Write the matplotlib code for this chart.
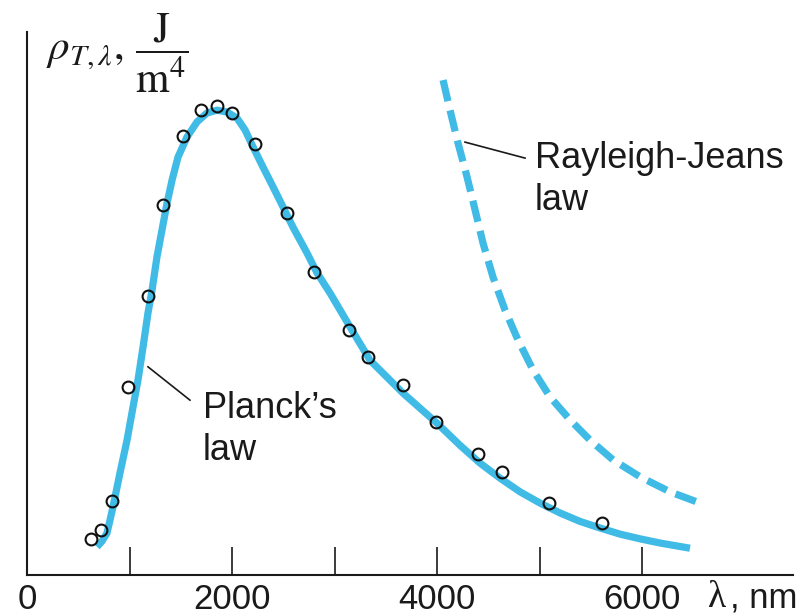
import matplotlib
matplotlib.use("Agg")
import matplotlib.pyplot as plt

# ---- data (arbitrary y units, peak ~ 1) ----
meas_wavelength = [620, 720, 830, 990, 1180, 1330, 1520, 1700, 1850, 2000, 2220,
                   2540, 2800, 3140, 3330, 3670, 3990, 4400, 4630, 5090, 5610]
meas_rho = [0.077, 0.096, 0.157, 0.400, 0.594, 0.787, 0.934, 0.989, 0.998, 0.983, 0.917,
            0.770, 0.645, 0.521, 0.464, 0.404, 0.326, 0.257, 0.219, 0.153, 0.111]

planck_wavelength = [683, 732, 780, 810, 839, 907, 976, 1034, 1083, 1132, 1180, 1220, 1268,
                     1317, 1366, 1415, 1473, 1561, 1659, 1756, 1854, 1951, 2049, 2127,
                     2205, 2302, 2400, 2498, 2595, 2732, 2829, 2956, 3151, 3346, 3668,
                     4000, 4224, 4420, 4615, 4810, 5005, 5200, 5395, 5590, 5785, 5980,
                     6176, 6468]
planck_rho = [0.060, 0.072, 0.089, 0.117, 0.145, 0.217, 0.287, 0.357, 0.415, 0.485, 0.557,
              0.606, 0.677, 0.734, 0.791, 0.840, 0.889, 0.932, 0.964, 0.983, 0.989, 0.985,
              0.972, 0.947, 0.911, 0.868, 0.826, 0.783, 0.740, 0.685, 0.643, 0.600, 0.528,
              0.457, 0.387, 0.323, 0.276, 0.238, 0.206, 0.177, 0.153, 0.132, 0.114, 0.100,
              0.087, 0.077, 0.068, 0.057]

rj_wavelength = [4059, 4127, 4205, 4293, 4371, 4449, 4546, 4663, 4790, 4937, 5102, 5298,
                 5493, 5717, 5980, 6273, 6566]
rj_rho = [1.053, 0.989, 0.919, 0.847, 0.777, 0.706, 0.634, 0.564, 0.500, 0.436, 0.379,
          0.330, 0.287, 0.245, 0.209, 0.177, 0.153]

tick_values = [0, 1000, 2000, 3000, 4000, 5000, 6000]
tick_labels = ["0", "", "2000", "", "4000", "", "6000"]

BLUE = "#3fbbe6"
INK = "#1a1a1a"
SANS = "Liberation Sans"
SERIF = "Liberation Serif"

W, H = 809, 616
fig = plt.figure(figsize=(W / 100, H / 100), dpi=100)
ax = fig.add_axes([27 / W, 41 / H, (793 - 27) / W, (584 - 41) / H])
ax.set_xlim(0, 7473)
ax.set_ylim(0, 1.1553)

ax.plot(planck_wavelength, planck_rho, color=BLUE, lw=5.2, solid_joinstyle="round",
        solid_capstyle="butt", zorder=2)
ax.plot(rj_wavelength, rj_rho, color=BLUE, lw=5.2, linestyle=(0, (3.0, 1.3)),
        dash_capstyle="butt", dash_joinstyle="round", zorder=2)
ax.plot(meas_wavelength, meas_rho, linestyle="none", marker="o", markersize=8.5,
        markerfacecolor="none", markeredgecolor="#111111", markeredgewidth=1.5, zorder=3)

for s in ["top", "right"]:
    ax.spines[s].set_visible(False)
for s in ["left", "bottom"]:
    ax.spines[s].set_linewidth(1.5)
    ax.spines[s].set_color(INK)

ax.set_xticks(tick_values)
ax.set_xticklabels(tick_labels, fontfamily=SANS, fontsize=25, color=INK)
ax.tick_params(axis="x", direction="in", length=20, width=1.2, pad=6, color=INK)
ax.set_yticks([])

# x-axis label
ax.text(6644, -0.0424, "λ", transform=ax.get_xaxis_transform(), fontfamily=SERIF,
        fontsize=27, ha="left", va="center", color=INK, clip_on=False)
ax.text(6860, -0.0424, ", nm", transform=ax.get_xaxis_transform(), fontfamily=SANS,
        fontsize=25, ha="left", va="center", color=INK, clip_on=False)

# y-axis label
plt.rcParams["mathtext.fontset"] = "stix"
fig.text(46 / W, 1 - 53 / H, r"$\rho_{T,\lambda},\,\dfrac{\mathrm{J}}{\mathrm{m}^4}$",
         fontsize=31, ha="left", va="center", color=INK)

# annotations
ax.plot([1180, 1590], [0.443, 0.372], color=INK, lw=1.2)
ax.text(1717, 0.334, "Planck’s", fontfamily=SANS, fontsize=26, ha="left", va="baseline",
        color=INK)
ax.text(1717, 0.245, "law", fontfamily=SANS, fontsize=26, ha="left", va="baseline",
        color=INK)

ax.plot([4273, 4859], [0.921, 0.887], color=INK, lw=1.2)
ax.text(4956, 0.866, "Rayleigh-Jeans", fontfamily=SANS, fontsize=26, ha="left",
        va="baseline", color=INK)
ax.text(4956, 0.777, "law", fontfamily=SANS, fontsize=26, ha="left", va="baseline",
        color=INK)

fig.savefig("out.png", dpi=100)
